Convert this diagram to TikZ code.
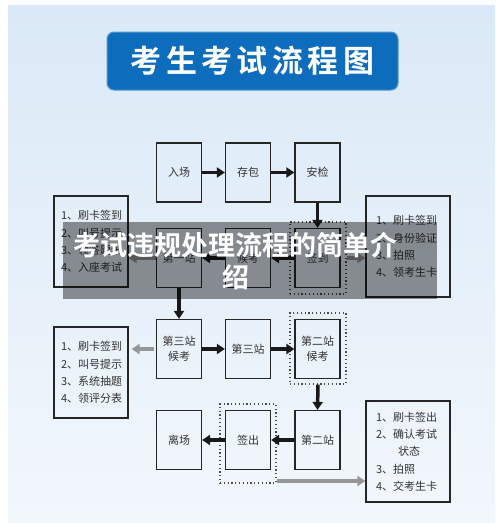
\documentclass[tikz,border=0pt]{standalone}
\usepackage{fontspec}
\setmainfont{Noto Sans CJK SC}
\newfontfamily\cjkb{Noto Sans CJK SC}[BoldFont={* Bold}]
\usetikzlibrary{arrows.meta}
\definecolor{bgtop}{RGB}{218,233,247}
\definecolor{bgbot}{RGB}{242,247,252}
\definecolor{titleblue}{RGB}{14,108,188}
\definecolor{txt}{RGB}{50,50,50}
\definecolor{garrow}{RGB}{150,150,150}
\tikzset{
  sbox/.style={draw=black!85, line width=1.2pt, minimum width=45pt, minimum height=59pt, inner sep=0pt, text=txt, font=\fontsize{11}{15}\selectfont, align=center},
  lbox/.style={draw=black!85, line width=1.2pt, inner xsep=7pt, inner ysep=0pt, text=txt, font=\fontsize{11}{17.3}\selectfont, align=left, anchor=center},
  dframe/.style={draw=black!70, line width=1.2pt, dash pattern=on 1.2pt off 2.6pt, inner sep=0pt},
  barrow/.style={line width=3.5pt, black!90, -{Triangle[length=8pt,width=10pt]}},
  garr/.style={line width=3.5pt, garrow, -{Triangle[length=8pt,width=10pt]}},
}
\begin{document}
\begin{tikzpicture}[x=1pt,y=-1pt]
\useasboundingbox (0,0) rectangle (500,523);
\fill[white] (0,0) rectangle (500,523);
\shade[top color=bgtop, bottom color=bgbot] (8,5) rectangle (495,523);
% title
\node[fill=titleblue, draw=titleblue!70!white, line width=1pt, rounded corners=7pt, minimum width=291pt, minimum height=58pt, text=white, font=\cjkb\bfseries\fontsize{31}{31}\selectfont\addfontfeature{LetterSpace=14}] (title) at (252.5,61) {考生考试流程图};
% row 1
\node[sbox] (rc) at (179,172.5) {入场};
\node[sbox] (cb) at (248,172.5) {存包};
\node[sbox] (aj) at (317.5,172.5) {安检};
% row 2
\node[sbox] (d1) at (179,258) {第一站};
\node[sbox] (hk) at (248,258) {候考};
\node[sbox] (qd) at (317.5,258) {签到};
\node[dframe, minimum width=56pt, minimum height=72pt] (f1) at (318,258) {};
\node[lbox, minimum width=74pt, minimum height=91pt, text width=60pt] (l1) at (91,241.5) {1、刷卡签到\\2、叫号提示\\3、领答题纸\\4、入座考试};
\node[lbox, minimum width=84pt, minimum height=101pt, text width=64pt] (r1) at (408,246.5) {1、刷卡签到\\2、身份验证\\3、拍照\\4、领考生卡};
% row 3
\node[sbox] (d3h) at (179,349) {第三站\\候考};
\node[sbox] (d3) at (248,349) {第三站};
\node[sbox] (d2h) at (317.5,349) {第二站\\候考};
\node[dframe, minimum width=56pt, minimum height=71pt] (f2) at (318,348.5) {};
\node[lbox, minimum width=74pt, minimum height=91pt, text width=60pt] (l2) at (91,372.5) {1、刷卡签到\\2、叫号提示\\3、系统抽题\\4、领评分表};
% row 4
\node[sbox] (lc) at (179,440) {离场};
\node[sbox] (qc) at (248,440) {签出};
\node[sbox] (d2) at (317.5,440) {第二站};
\node[dframe, minimum width=56pt, minimum height=79pt] (f3) at (248,443.5) {};
\coordinate (gstart) at (277,481);
\node[lbox, minimum width=84pt, minimum height=101pt, text width=64pt] (r2) at (408,451.5) {1、刷卡签出\\2、确认考试\\\hspace*{2em}状态\\3、拍照\\4、交考生卡};
% arrows
\draw[barrow] (rc.east) -- (cb.west);
\draw[barrow] (cb.east) -- (aj.west);
\draw[barrow] (aj.south) -- (qd.north);
\draw[barrow] (qd.west) -- (hk.east);
\draw[barrow] (hk.west) -- (d1.east);
\draw[garr] (d1.west) -- (l1.east |- d1.west);
\draw[garr] (f1.east) -- (r1.west |- f1.east);
\draw[barrow] (d1.south) -- (d3h.north);
\draw[garr] (d3h.west) ++(-2,0) -- ([xshift=3pt]l2.east |- d3h.west);
\draw[barrow] (d3h.east) -- (d3.west);
\draw[barrow] (d3.east) -- (d2h.west);
\draw[barrow] (f2.south) -- (d2.north);
\draw[barrow] (d2.west) -- (qc.east);
\draw[barrow] (qc.west) -- (lc.east);
\draw[garr] (gstart) -- (r2.west |- gstart);
% overlay band
\fill[black, opacity=0.42] (63,222) rectangle (437,299);
\node[text=white, font=\cjkb\bfseries\fontsize{27}{32}\selectfont, align=center] (band) at (236,261) {考试违规处理流程的简单介\\绍};
\end{tikzpicture}
\end{document}
